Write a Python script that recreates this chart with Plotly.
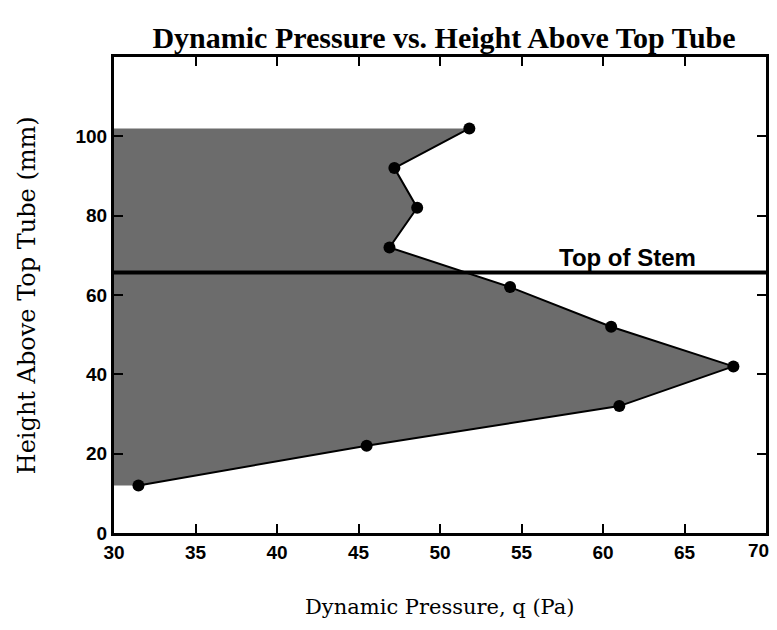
import plotly.graph_objects as go

pressure = [31.5, 45.5, 61.0, 68.0, 60.5, 54.3, 46.9, 48.6, 47.2, 51.8]
height = [12, 22, 32, 42, 52, 62, 72, 82, 92, 102]
stem_height = 65.7
stem_label = "Top of Stem"
x_ticks = [30, 35, 40, 45, 50, 55, 60, 65, 70]
y_ticks = [0, 20, 40, 60, 80, 100]

tickfont = dict(family="Liberation Sans", size=19, color="black", weight="bold")

# last x tick label is drawn as an annotation so it is not clipped at the edge
x_ticktext = [str(v) for v in x_ticks[:-1]] + [""]

fig = go.Figure()
fig.add_trace(go.Scatter(
    x=pressure, y=height, mode="lines+markers",
    fill="tozerox", fillcolor="#6c6c6c",
    line=dict(color="black", width=2),
    marker=dict(color="black", size=12),
    showlegend=False,
))
fig.add_shape(type="line", xref="paper", x0=0, x1=1, yref="y",
              y0=stem_height, y1=stem_height,
              line=dict(color="black", width=4))
fig.add_annotation(x=61.5, y=stem_height, text="<b>" + stem_label + "</b>",
                   showarrow=False, yanchor="bottom", yshift=-1,
                   font=dict(family="Liberation Sans", size=24, color="black"))
fig.add_annotation(x=x_ticks[-1], xref="x", yref="paper", y=0,
                   text=str(x_ticks[-1]), showarrow=False,
                   xanchor="center", yanchor="top", xshift=-8, yshift=-5,
                   font=tickfont)
fig.add_annotation(xref="paper", yref="paper", x=0.5, y=-0.155,
                   text="Dynamic Pressure, q (Pa)", showarrow=False,
                   xanchor="center", yanchor="middle",
                   font=dict(family="DejaVu Serif", size=21, color="black"))
fig.add_annotation(xref="paper", yref="paper", x=-0.133, y=0.5,
                   text="Height Above Top Tube (mm)", showarrow=False,
                   textangle=-90, xanchor="center", yanchor="middle",
                   font=dict(family="DejaVu Serif", size=24, color="black"))

axis_common = dict(ticks="inside", ticklen=9, tickwidth=2, tickcolor="black",
                   mirror="ticks", showline=True, linecolor="black", linewidth=3,
                   showgrid=False, zeroline=False, automargin=False,
                   tickfont=tickfont)

fig.update_layout(
    width=769, height=614,
    margin=dict(l=106, r=11, t=49, b=89),
    plot_bgcolor="white", paper_bgcolor="white",
    title=dict(text="<b>Dynamic Pressure vs. Height Above Top Tube</b>",
               xref="container", x=0.567, xanchor="center", yref="container",
               y=0.952, yanchor="middle",
               font=dict(family="Liberation Serif", size=30, color="black")),
    xaxis=dict(range=[30, 70], tickvals=x_ticks, ticktext=x_ticktext,
               **axis_common),
    yaxis=dict(range=[0, 120], tickvals=y_ticks, **axis_common),
)

fig.write_html("out.html")
